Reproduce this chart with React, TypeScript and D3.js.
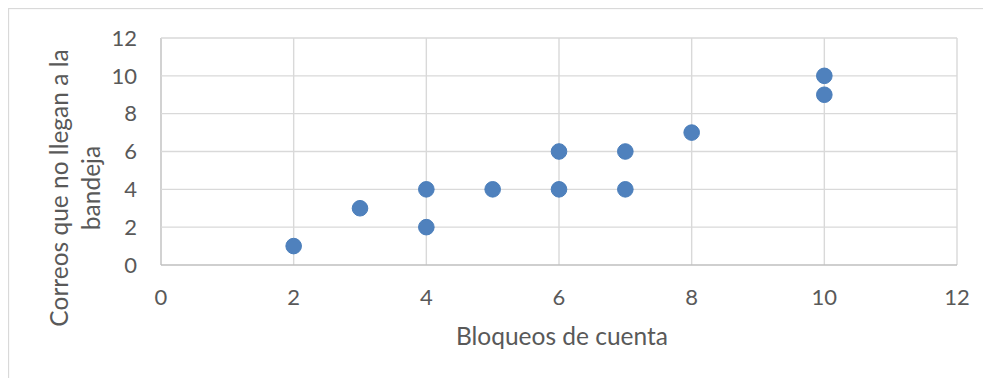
import React from "react";
import * as d3 from "d3";

// Scatter data: account lockouts vs. emails not reaching the inbox
const bloqueos = [2, 3, 4, 4, 5, 6, 6, 7, 7, 8, 10, 10];
const correos = [1, 3, 4, 2, 4, 6, 4, 6, 4, 7, 10, 9];

const xTicks = [0, 2, 4, 6, 8, 10, 12];
const yTicks = [0, 2, 4, 6, 8, 10, 12];

const xTitle = "Bloqueos de cuenta";
const yTitleLines = ["Correos que no llegan a la", "bandeja"];

const W = 983;
const H = 370;
// plot area in svg coordinates (svg sits at page offset 8,8)
const left = 153;
const right = 949;
const top = 30;
const bottom = 257;

const FONT = "Lato, 'Open Sans', sans-serif";
const TEXT = "#595959";

export default function App() {
  const x = d3.scaleLinear().domain([0, 12]).range([left, right]);
  const y = d3.scaleLinear().domain([0, 12]).range([bottom, top]);

  const points = bloqueos.map((b, i) => ({ b, c: correos[i] }));
  const yMid = 180;

  return (
    <svg width={W} height={H} style={{ display: "block" }}>
      <rect x={0.5} y={0.5} width={W + 20} height={H + 20} fill="#fff" stroke="#d9d9d9" strokeWidth={1.3} />
      {/* gridlines */}
      {xTicks.map((t) => (
        <line key={"gx" + t} x1={x(t)} x2={x(t)} y1={top} y2={bottom} stroke={t === 0 ? "#bfbfbf" : "#d9d9d9"} strokeWidth={1.4} />
      ))}
      {yTicks.map((t) => (
        <line key={"gy" + t} x1={left} x2={right} y1={y(t)} y2={y(t)} stroke={t === 0 ? "#bfbfbf" : "#d9d9d9"} strokeWidth={1.4} />
      ))}
      {/* tick labels */}
      {yTicks.map((t) => (
        <text key={"ty" + t} x={left - 24} y={y(t)} dy="0.35em" textAnchor="end" fontFamily={FONT} fontSize={22} fill={TEXT}>
          {t}
        </text>
      ))}
      {xTicks.map((t) => (
        <text key={"tx" + t} x={x(t)} y={bottom + 40} textAnchor="middle" fontFamily={FONT} fontSize={22} fill={TEXT}>
          {t}
        </text>
      ))}
      {/* axis titles */}
      <text x={(left + right) / 2 + 3} y={337} textAnchor="middle" fontFamily={FONT} fontSize={24.5} fill={TEXT}>
        {xTitle}
      </text>
      {yTitleLines.map((line, i) => (
        <text
          key={"yt" + i}
          transform={`translate(${60 + i * 32},${yMid}) rotate(-90)`}
          textAnchor="middle"
          fontFamily={FONT}
          fontSize={24.5}
          fill={TEXT}
        >
          {line}
        </text>
      ))}
      {/* markers */}
      {points.map((p, i) => (
        <circle key={i} cx={x(p.b)} cy={y(p.c)} r={7.8} fill="#4f81bd" stroke="#4a7ebb" strokeWidth={1} />
      ))}
    </svg>
  );
}
